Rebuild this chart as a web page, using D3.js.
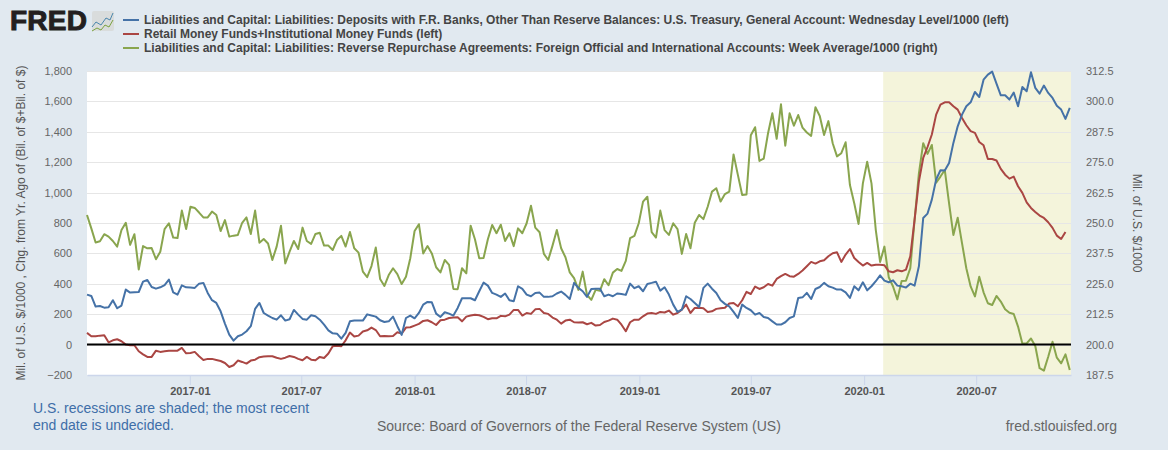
<!DOCTYPE html>
<html>
<head>
<meta charset="utf-8">
<script src="https://d3js.org/d3.v7.min.js"></script>
<style>
	html, body { margin: 0; padding: 0; background: #e1e9f0; }
	svg { display: block; font-family: "Liberation Sans", Arial, sans-serif; }
	.tick text { fill: #666; font-size: 11px; }
	.xaxis .tick text { fill: #555; font-weight: bold; }
</style>
</head>
<body>
<svg id="chart" width="1168" height="450"></svg>
<script>
// ==== data ====
var firstWeek = new Date(2016, 6, 18);
var lastDay = new Date(2020, 11, 2);
var recessionStart = new Date(2020, 1, 1);

var leftTicks = [-200, 0, 200, 400, 600, 800, 1000, 1200, 1400, 1600, 1800];
var rightTicks = [187.5, 200, 212.5, 225, 237.5, 250, 262.5, 275, 287.5, 300, 312.5];
var xTickMonths = [[2017, 0], [2017, 6], [2018, 0], [2018, 6], [2019, 0], [2019, 6], [2020, 0], [2020, 6]];

var legendLabels = [
	'Liabilities and Capital: Liabilities: Deposits with F.R. Banks, Other Than Reserve Balances: U.S. Treasury, General Account: Wednesday Level/1000 (left)',
	'Retail Money Funds+Institutional Money Funds (left)',
	'Liabilities and Capital: Liabilities: Reverse Repurchase Agreements: Foreign Official and International Accounts: Week Average/1000 (right)'
];

var treasury = [329, 320, 250, 254, 243, 246, 292, 239, 257, 362, 342, 344, 346, 414, 425, 379, 368, 377, 392, 428,
	344, 329, 390, 377, 375, 373, 401, 406, 340, 292, 274, 219, 138, 66, 26, 55, 66, 88, 121, 235,
	274, 208, 191, 175, 164, 193, 158, 167, 228, 197, 169, 164, 193, 186, 164, 131, 94, 74, 72, 39,
	77, 153, 158, 158, 158, 199, 191, 184, 160, 149, 153, 184, 121, 64,
	175, 191, 173, 208, 263, 281, 278, 204, 182, 213, 204, 191, 241, 305, 305, 305, 292, 351, 408, 388,
	340, 329, 314, 336, 292, 285, 384, 366, 329, 318, 340, 342, 314, 314, 318, 336, 349, 327, 300, 406,
	373, 351, 314, 366, 368, 368, 318, 329, 318, 336, 333, 327, 401, 371, 384, 351, 399, 406, 414, 355,
	377, 329, 263, 215, 230, 318, 300, 274, 248, 373, 401, 368, 340, 292, 268, 252,
	215, 175, 263, 241, 226, 197, 208, 182, 175, 153, 132, 132, 147, 175, 186, 307, 311, 340, 300, 366,
	379, 406, 384, 375, 362, 362, 344, 307, 384, 357, 410, 357, 384, 417, 456, 421, 410, 423, 388, 384,
	375, 401, 388, 515, 833, 862, 954, 1086, 1147, 1145, 1195, 1327, 1436, 1513, 1568, 1594, 1662, 1629, 1743, 1776,
	1796, 1717, 1640, 1640, 1612, 1658, 1568, 1695, 1667, 1792, 1689, 1651, 1704, 1656, 1623, 1572, 1546, 1485, 1557];

var moneyFunds = [77, 55, 55, 59, 61, 15, 28, 35, 22, 0, -4, -4, -44, -64, -81, -81, -40, -48, -44, -40,
	-40, -40, -22, -57, -55, -48, -77, -101, -94, -94, -101, -108, -121, -147, -136, -105, -114, -125, -105, -99,
	-83, -79, -77, -77, -86, -94, -86, -75, -81, -94, -103, -81, -99, -103, -81, -88, -59, -11, -7, -11,
	28, 79, 53, 59, 86, 94, 112, 96, 55, 57, 55, 57, 81, 72,
	112, 114, 125, 136, 156, 160, 147, 129, 160, 164, 175, 178, 180, 153, 184, 191, 197, 193, 182, 167,
	173, 173, 189, 186, 197, 228, 228, 191, 208, 202, 232, 235, 208, 202, 178, 164, 138, 158, 164, 147,
	145, 147, 134, 143, 125, 129, 149, 158, 171, 164, 131, 88, 147, 164, 164, 186, 204, 208, 202, 215,
	211, 224, 197, 208, 230, 263, 208, 241, 243, 239, 215, 219, 235, 239, 243, 270,
	274, 252, 292, 347, 333, 382, 366, 377, 399, 388, 432, 450, 465, 450, 447, 465, 487, 515, 544, 533,
	548, 555, 581, 601, 607, 544, 592, 629, 570, 544, 520, 537, 520, 526, 526, 522, 482, 476, 489, 482,
	493, 581, 822, 1075, 1228, 1300, 1382, 1513, 1579, 1594, 1594, 1568, 1546, 1491, 1443, 1404, 1393, 1333, 1311, 1221,
	1221, 1211, 1156, 1118, 1092, 1105, 1042, 998, 936, 899, 873, 849, 833, 805, 768, 717, 695, 741];

var reverseRepo = [253.3, 247.8, 242.0, 242.5, 245.4, 244.4, 242.6, 240.3, 247.1, 250.1, 241.0, 245.4, 230.9, 240.5, 239.6, 239.7, 235.1, 238.2, 247.5, 249.9,
	244.0, 243.8, 255.1, 247.5, 256.7, 256.2, 254.3, 252.3, 252.3, 254.7, 253.3, 246.7, 251.2, 244.4, 244.8, 245.1, 250.1, 252.3, 245.5, 255.1,
	241.9, 243.4, 241.6, 234.8, 240.3, 248.9, 233.4, 238.2, 242.6, 239.3, 248.1, 242.6, 241.4, 245.5, 246.0, 240.7, 240.7, 238.9, 243.0, 244.7,
	240.3, 246.3, 239.6, 237.8, 230.0, 227.7, 232.3, 239.9, 227.0, 224.1, 228.6, 231.4, 229.0, 224.9,
	227.9, 235.5, 246.7, 249.5, 237.5, 240.5, 237.5, 231.8, 229.7, 234.8, 232.8, 222.9, 222.8, 231.4, 229.3, 248.9, 243.3, 235.5, 235.6, 243.3,
	249.2, 245.8, 249.3, 242.6, 245.8, 240.5, 247.8, 245.8, 249.9, 257.1, 248.1, 246.2, 237.3, 234.8, 240.7, 247.1, 239.6, 235.9, 229.7, 227.3,
	222.5, 230.0, 220.4, 218.4, 222.5, 222.1, 226.9, 224.4, 229.6, 231.1, 230.3, 234.4, 243.8, 244.7, 249.9, 258.8, 260.8, 246.2, 244.0, 255.1,
	247.1, 245.1, 249.9, 247.5, 237.3, 245.5, 239.6, 250.1, 253.3, 251.6, 256.7, 262.9, 264.3, 258.8, 261.9, 262.9,
	278.2, 269.8, 261.5, 261.7, 286.1, 289.4, 275.5, 276.5, 286.9, 295.1, 284.6, 298.8, 281.8, 295.1, 290.0, 294.4, 289.2, 287.2, 285.8, 297.6,
	294.0, 286.2, 291.9, 282.8, 277.4, 278.7, 283.2, 265.6, 258.1, 249.6, 266.3, 275.2, 266.3, 247.1, 234.0, 240.3, 227.7, 223.9, 218.6, 226.2,
	226.3, 231.4, 251.3, 270.4, 282.8, 278.4, 282.1, 266.6, 269.1, 271.8, 258.1, 245.1, 252.2, 241.7, 231.4, 223.9, 219.8, 227.9, 221.5, 217.0,
	216.3, 220.0, 217.7, 214.5, 213.1, 212.6, 207.4, 200.5, 200.5, 202.5, 199.4, 190.3, 189.3, 195.0, 201.2, 194.6, 192.3, 196.0, 189.6];

// ==== layout ====
var margin = { left: 87, right: 1071, top: 71, bottom: 375 };
var svg = d3.select('#chart');

var x = d3.scaleTime().domain([firstWeek, lastDay]).range([margin.left, margin.right]);
var yLeft = d3.scaleLinear().domain([-200, 1800]).range([margin.bottom, margin.top]);
var yRight = d3.scaleLinear().domain([187.5, 312.5]).range([margin.bottom, margin.top]);

function weekDate(i) {
	return d3.timeWeek.offset(firstWeek, i);
}

// plot background
svg.append('rect')
	.attr('x', margin.left)
	.attr('y', margin.top)
	.attr('width', margin.right - margin.left)
	.attr('height', margin.bottom - margin.top)
	.attr('fill', '#fff');

svg.append('rect')
	.attr('x', x(recessionStart))
	.attr('y', margin.top)
	.attr('width', margin.right - x(recessionStart))
	.attr('height', margin.bottom - margin.top)
	.attr('fill', '#f4f4db');

// grid lines
svg.append('g').selectAll('line')
	.data(leftTicks.slice(1))
	.enter().append('line')
	.attr('x1', margin.left)
	.attr('x2', margin.right)
	.attr('y1', function(d) { return Math.round(yLeft(d)) + 0.5; })
	.attr('y2', function(d) { return Math.round(yLeft(d)) + 0.5; })
	.attr('stroke', '#e6e6e6');

// x axis
var xAxis = svg.append('g')
	.attr('class', 'xaxis')
	.attr('transform', 'translate(0,' + margin.bottom + ')')
	.call(d3.axisBottom(x)
		.tickValues(xTickMonths.map(function(m) { return new Date(m[0], m[1], 1); }))
		.tickFormat(d3.timeFormat('%Y-%m'))
		.tickSize(10)
		.tickSizeOuter(0)
		.tickPadding(2));
xAxis.select('.domain').attr('stroke', '#ccd6eb').attr('stroke-width', 1.5);
xAxis.selectAll('.tick line').attr('stroke', '#ccd6eb');

// y axes
var leftAxis = svg.append('g')
	.attr('transform', 'translate(' + margin.left + ',0)')
	.call(d3.axisLeft(yLeft).tickValues(leftTicks).tickSize(0).tickPadding(15).tickFormat(d3.format(',')));
leftAxis.select('.domain').remove();

var rightAxis = svg.append('g')
	.attr('transform', 'translate(' + margin.right + ',0)')
	.call(d3.axisRight(yRight).tickValues(rightTicks).tickSize(0).tickPadding(15).tickFormat(d3.format('.1f')));
rightAxis.select('.domain').remove();

// axis titles
svg.append('text')
	.attr('transform', 'translate(25,' + (margin.top + margin.bottom) / 2 + ') rotate(-90)')
	.attr('text-anchor', 'middle')
	.attr('font-size', 12)
	.attr('fill', '#555')
	.text('Mil. of U.S. $/1000 , Chg. from Yr. Ago of (Bil. of $+Bil. of $)');

svg.append('text')
	.attr('transform', 'translate(1133,223) rotate(90)')
	.attr('text-anchor', 'middle')
	.attr('font-size', 12)
	.attr('fill', '#555')
	.text('Mil. of U.S. $/1000');

// series
var series = [
	{ values: reverseRepo, scale: yRight, color: '#89a54e' },
	{ values: moneyFunds, scale: yLeft, color: '#aa4643' },
	{ values: treasury, scale: yLeft, color: '#4572a7' }
];

var lineGroup = svg.append('g');
series.forEach(function(s) {
	var line = d3.line()
		.x(function(d, i) { return x(weekDate(i)); })
		.y(function(d) { return s.scale(d); });
	lineGroup.append('path')
		.datum(s.values)
		.attr('d', line)
		.attr('fill', 'none')
		.attr('stroke', s.color)
		.attr('stroke-width', 2)
		.attr('stroke-linejoin', 'round');
});

// zero line
svg.append('line')
	.attr('x1', margin.left)
	.attr('x2', margin.right)
	.attr('y1', yLeft(0))
	.attr('y2', yLeft(0))
	.attr('stroke', '#000')
	.attr('stroke-width', 2);

// legend
var legendColors = ['#4572a7', '#aa4643', '#89a54e'];
var legend = svg.append('g');
legendLabels.forEach(function(label, i) {
	var rowY = 20 + i * 14;
	legend.append('line')
		.attr('x1', 123)
		.attr('x2', 139)
		.attr('y1', rowY)
		.attr('y2', rowY)
		.attr('stroke', legendColors[i])
		.attr('stroke-width', 2);
	legend.append('text')
		.attr('x', 144)
		.attr('y', rowY + 4)
		.attr('font-size', 12)
		.attr('font-weight', 'bold')
		.attr('fill', '#444')
		.text(label);
});

// logo
svg.append('text')
	.attr('x', 10)
	.attr('y', 30)
	.attr('font-size', 28)
	.attr('font-weight', 'bold')
	.attr('stroke', '#231f20')
	.attr('stroke-width', 1)
	.attr('fill', '#231f20')
	.attr('textLength', 77)
	.text('FRED');

var logoBlue = [[0, 16], [4, 11], [9, 14], [14, 7], [18, 9], [21, 2]];
var logoGreen = [[0, 20], [5, 17], [9, 19], [13, 14], [17, 16], [21, 9]];
var logo = svg.append('g').attr('transform', 'translate(92,11)');
logo.append('rect')
	.attr('width', 22)
	.attr('height', 20)
	.attr('rx', 2)
	.attr('fill', '#d9dcdc');
[[logoBlue, '#4a86ad'], [logoGreen, '#7ba23f']].forEach(function(l) {
	logo.append('path')
		.attr('d', d3.line()(l[0]))
		.attr('fill', 'none')
		.attr('stroke', l[1]);
});

// footer
svg.append('text')
	.attr('x', 33)
	.attr('y', 413)
	.attr('font-size', 14)
	.attr('fill', '#3e6ea8')
	.text('U.S. recessions are shaded; the most recent');
svg.append('text')
	.attr('x', 33)
	.attr('y', 430)
	.attr('font-size', 14)
	.attr('fill', '#3e6ea8')
	.text('end date is undecided.');
svg.append('text')
	.attr('x', 377)
	.attr('y', 431)
	.attr('font-size', 14)
	.attr('fill', '#666')
	.text('Source: Board of Governors of the Federal Reserve System (US)');
svg.append('text')
	.attr('x', 1117)
	.attr('y', 431)
	.attr('text-anchor', 'end')
	.attr('font-size', 14)
	.attr('fill', '#666')
	.text('fred.stlouisfed.org');
</script>
</body>
</html>
